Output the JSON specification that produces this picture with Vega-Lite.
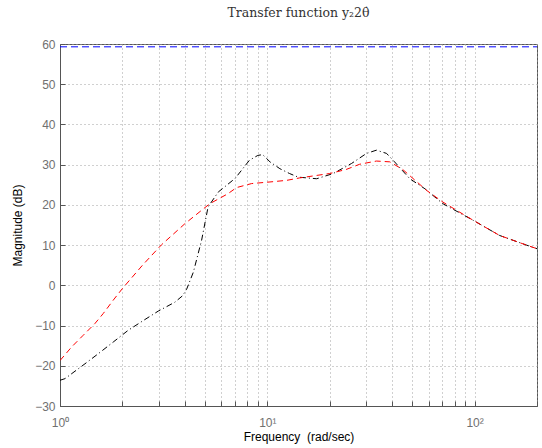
{
  "$schema": "https://vega.github.io/schema/vega-lite/v6.json",
  "autosize": "none",
  "width": 477,
  "height": 362,
  "padding": {"left": 60, "top": 44, "right": 5, "bottom": 42},
  "background": "white",
  "title": {
    "text": "Transfer function y₂2θ̇",
    "font": "DejaVu Serif",
    "fontSize": 12.5,
    "fontWeight": "normal",
    "color": "#333333",
    "anchor": "middle",
    "offset": 19
  },
  "config": {
    "view": {"stroke": "#555555", "strokeWidth": 1},
    "axis": {
      "labelFont": "Liberation Sans",
      "labelFontSize": 12,
      "labelColor": "#707070",
      "titleFont": "Liberation Sans",
      "titleFontSize": 12,
      "titleFontWeight": "normal",
      "titleColor": "#000000",
      "domainColor": "#555555",
      "domainWidth": 1,
      "tickColor": "#555555",
      "tickSize": -5,
      "grid": true,
      "gridColor": "#a0a0a0",
      "gridDash": [1, 3],
      "gridWidth": 1,
      "gridOpacity": 1
    }
  },
  "datasets": {
    "curves": [
      {"s": "blue", "f": 1, "v": 59.3},
      {"s": "blue", "f": 200, "v": 59.3},
      {"s": "black", "f": 1.0, "v": -23.6},
      {"s": "black", "f": 1.057, "v": -23.2},
      {"s": "black", "f": 1.32, "v": -19.5},
      {"s": "black", "f": 1.53, "v": -17.0},
      {"s": "black", "f": 1.806, "v": -14.1},
      {"s": "black", "f": 2.13, "v": -11.2},
      {"s": "black", "f": 2.48, "v": -9.0},
      {"s": "black", "f": 2.98, "v": -6.4},
      {"s": "black", "f": 3.58, "v": -4.2},
      {"s": "black", "f": 3.9, "v": -2.6},
      {"s": "black", "f": 4.08, "v": -1.0},
      {"s": "black", "f": 4.4, "v": 3.3},
      {"s": "black", "f": 4.82, "v": 11.2},
      {"s": "black", "f": 5.18, "v": 19.5},
      {"s": "black", "f": 5.8, "v": 23.2},
      {"s": "black", "f": 7.0, "v": 26.6},
      {"s": "black", "f": 8.2, "v": 31.1},
      {"s": "black", "f": 9.0, "v": 32.3},
      {"s": "black", "f": 9.5, "v": 32.5},
      {"s": "black", "f": 10.3, "v": 30.7},
      {"s": "black", "f": 11.5, "v": 29.0},
      {"s": "black", "f": 12.8, "v": 27.8},
      {"s": "black", "f": 14.1, "v": 26.9},
      {"s": "black", "f": 17.3, "v": 26.5},
      {"s": "black", "f": 20.8, "v": 27.8},
      {"s": "black", "f": 25.5, "v": 30.3},
      {"s": "black", "f": 30.1, "v": 32.8},
      {"s": "black", "f": 33.6, "v": 33.6},
      {"s": "black", "f": 37.6, "v": 32.8},
      {"s": "black", "f": 41.1, "v": 30.7},
      {"s": "black", "f": 48.7, "v": 26.5},
      {"s": "black", "f": 57.6, "v": 24.0},
      {"s": "black", "f": 70.3, "v": 20.3},
      {"s": "black", "f": 98.2, "v": 16.2},
      {"s": "black", "f": 132, "v": 12.4},
      {"s": "black", "f": 178, "v": 10.0},
      {"s": "black", "f": 200, "v": 9.1},
      {"s": "red", "f": 1.0, "v": -18.7},
      {"s": "red", "f": 1.139, "v": -15.3},
      {"s": "red", "f": 1.295, "v": -12.4},
      {"s": "red", "f": 1.474, "v": -9.5},
      {"s": "red", "f": 1.617, "v": -7.0},
      {"s": "red", "f": 1.806, "v": -3.7},
      {"s": "red", "f": 2.0, "v": -0.8},
      {"s": "red", "f": 2.5, "v": 5.0},
      {"s": "red", "f": 3.09, "v": 10.1},
      {"s": "red", "f": 4.0, "v": 15.3},
      {"s": "red", "f": 5.28, "v": 20.3},
      {"s": "red", "f": 6.47, "v": 22.8},
      {"s": "red", "f": 7.1, "v": 24.3},
      {"s": "red", "f": 8.4, "v": 25.3},
      {"s": "red", "f": 10.3, "v": 25.7},
      {"s": "red", "f": 12.4, "v": 26.1},
      {"s": "red", "f": 14.3, "v": 26.7},
      {"s": "red", "f": 20, "v": 27.8},
      {"s": "red", "f": 24, "v": 28.8},
      {"s": "red", "f": 27.9, "v": 30.1},
      {"s": "red", "f": 33.6, "v": 30.9},
      {"s": "red", "f": 39, "v": 30.7},
      {"s": "red", "f": 45, "v": 28.8},
      {"s": "red", "f": 58.7, "v": 23.6},
      {"s": "red", "f": 70.3, "v": 20.7},
      {"s": "red", "f": 98.2, "v": 16.2},
      {"s": "red", "f": 132, "v": 12.4},
      {"s": "red", "f": 178, "v": 10.0},
      {"s": "red", "f": 200, "v": 9.1}
    ]
  },
  "data": {"name": "curves"},
  "mark": {"type": "line", "strokeWidth": 1, "clip": true},
  "encoding": {
    "x": {
      "field": "f",
      "type": "quantitative",
      "scale": {"type": "log", "domain": [1, 200], "nice": false},
      "axis": {
        "title": "Frequency \u00a0(rad/sec)",
        "values": [1, 2, 3, 4, 5, 6, 7, 8, 9, 10, 20, 30, 40, 50, 60, 70, 80, 90, 100, 200],
        "labelExpr": "datum.value == 1 ? '10⁰' : datum.value == 10 ? '10¹' : datum.value == 100 ? '10²' : ''",
        "labelOverlap": false,
        "labelFlush": false,
        "labelPadding": 16,
        "titlePadding": 3
      }
    },
    "y": {
      "field": "v",
      "type": "quantitative",
      "scale": {"domain": [-30, 60], "nice": false, "zero": false},
      "axis": {
        "title": "Magnitude (dB)",
        "values": [-30, -20, -10, 0, 10, 20, 30, 40, 50, 60],
        "labelPadding": 10,
        "titlePadding": 10
      }
    },
    "color": {
      "field": "s",
      "type": "nominal",
      "scale": {"domain": ["blue", "red", "black"], "range": ["#0000ff", "#ff0000", "#000000"]},
      "legend": null
    },
    "strokeDash": {
      "field": "s",
      "type": "nominal",
      "scale": {"domain": ["blue", "red", "black"], "range": [[7, 4], [6, 4], [6, 3, 1, 3]]},
      "legend": null
    },
    "order": {"field": "f", "type": "quantitative"}
  }
}
